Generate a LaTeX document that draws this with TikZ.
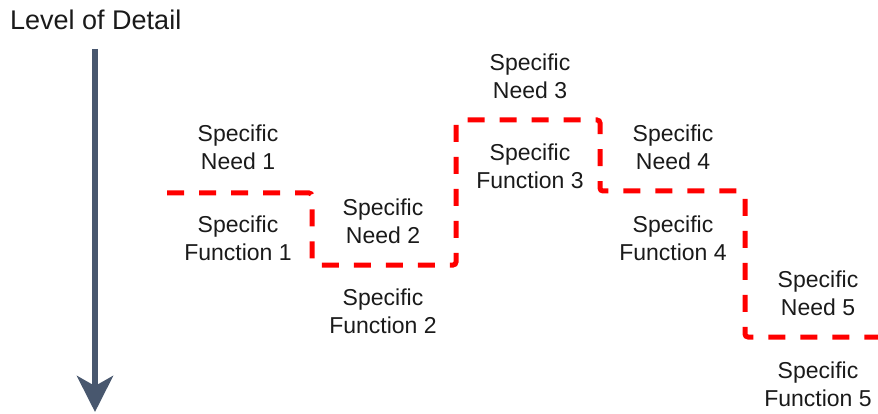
\documentclass[tikz,border=0pt]{standalone}
\usepackage{fontspec}
\setmainfont{Liberation Sans}
\usetikzlibrary{arrows.meta}
\definecolor{slate}{RGB}{72,87,110}
\definecolor{ink}{RGB}{26,26,26}
\definecolor{stairred}{RGB}{255,0,0}
\begin{document}
\begin{tikzpicture}[x=1pt,y=1pt,
  lbl/.style={align=center, text=ink, font=\fontsize{23}{28}\selectfont, inner sep=0pt},
  stair/.style={draw=stairred, line width=5pt, dash pattern=on 17pt off 15pt, rounded corners=3pt},
  axis/.style={draw=slate, line width=6pt, -{Stealth[length=36pt, width=36pt, inset=10pt]}}]
\useasboundingbox (0,0) rectangle (878,-414);

% axis title and arrow
\node[anchor=west, text=ink, font=\fontsize{27}{32}\selectfont, inner sep=0pt] (title) at (10,-20) {Level of Detail};
\coordinate (axtop) at (95,-49);
\coordinate (axbot) at (95,-412);
\draw[axis] (axtop) -- (axbot);

% corners of the staircase
\coordinate (s0) at (167,-193);
\coordinate (s1) at (312,-193);
\coordinate (s2) at (312,-265);
\coordinate (s3) at (456,-265);
\coordinate (s4) at (456,-120);
\coordinate (s5) at (600,-120);
\coordinate (s6) at (600,-191);
\coordinate (s7) at (745,-191);
\coordinate (s8) at (745,-337);
\coordinate (s9) at (880,-337);
\draw[stair] (s0) -- (s1) -- (s2) -- (s3) -- (s4) -- (s5) -- (s6) -- (s7) -- (s8) -- (s9);

% needs above the line, functions below it
\node[lbl] (n1) at (238,-147) {Specific\\Need 1};
\node[lbl] (f1) at (238,-238) {Specific\\Function 1};
\node[lbl] (n2) at (383,-221) {Specific\\Need 2};
\node[lbl] (f2) at (383,-311) {Specific\\Function 2};
\node[lbl] (n3) at (530,-76) {Specific\\Need 3};
\node[lbl] (f3) at (530,-166) {Specific\\Function 3};
\node[lbl] (n4) at (673,-147) {Specific\\Need 4};
\node[lbl] (f4) at (673,-238) {Specific\\Function 4};
\node[lbl] (n5) at (818,-293) {Specific\\Need 5};
\node[lbl] (f5) at (818,-384) {Specific\\Function 5};
\end{tikzpicture}
\end{document}
